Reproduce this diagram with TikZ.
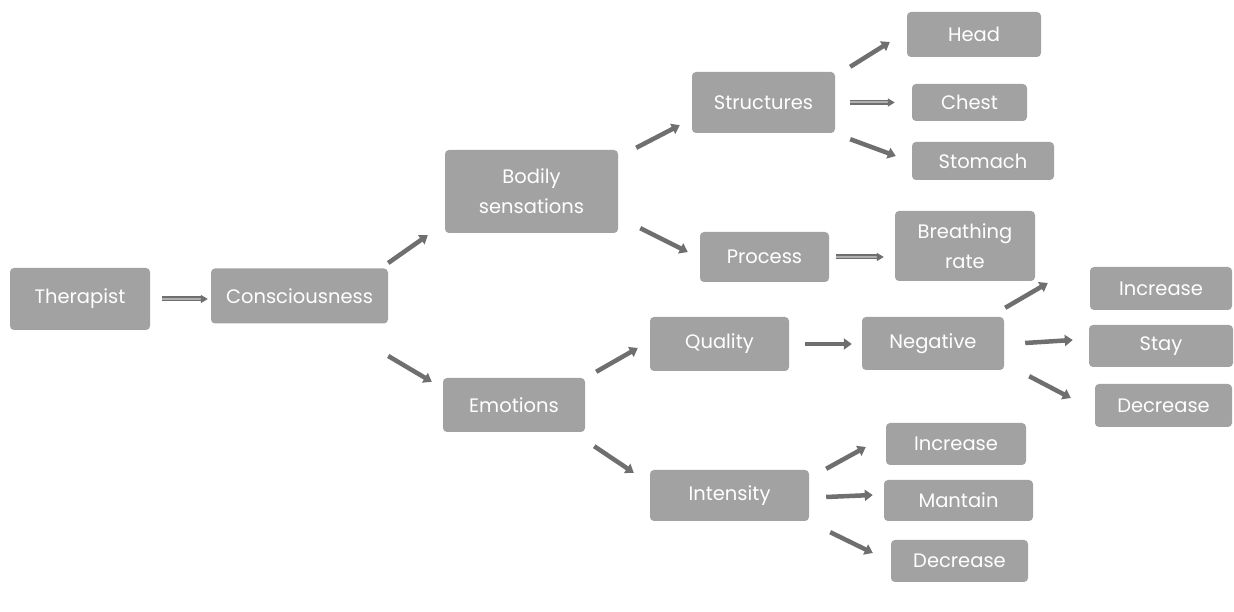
\documentclass[tikz,border=0pt]{standalone}
\usepackage{fontspec}
\setmainfont{Poppins}
\usetikzlibrary{arrows.meta}
\definecolor{boxgray}{HTML}{A2A2A2}
\definecolor{arrowgray}{HTML}{6F6F6F}
\begin{document}
\begin{tikzpicture}[x=1pt,y=1pt,
  box/.style={draw=none, fill=boxgray, rounded corners=4pt, text=white,
    font=\fontsize{19.5}{24}\selectfont, align=center, inner sep=0pt},
  arr/.style={draw=arrowgray, line width=4.5pt,
    -{Triangle[length=8pt,width=11pt]}},
  darr/.style={draw=arrowgray, line width=1.5pt, double=boxgray!85,
    double distance=2pt, -{Triangle[length=7pt,width=8pt]}}]
\fill[white] (0,0) rectangle (1234,612);
\path[use as bounding box] (0,0) rectangle (1234,612);

% boxes
\node[box, minimum width=140, minimum height=62] (ther) at (80,313) {Therapist};
\node[box, minimum width=177, minimum height=55] (cons) at (299.5,316) {Consciousness};
\node[box, minimum width=173, minimum height=83] (bod) at (531.5,420.5) {Bodily\\[6pt]sensations};
\node[box, minimum width=142, minimum height=54] (emo) at (514,207) {Emotions};
\node[box, minimum width=143, minimum height=61] (str) at (763.5,509.5) {Structures};
\node[box, minimum width=129, minimum height=50] (proc) at (764.5,355) {Process};
\node[box, minimum width=134, minimum height=45] (head) at (974,577.5) {Head};
\node[box, minimum width=115, minimum height=37] (chest) at (969.5,509.5) {Chest};
\node[box, minimum width=142, minimum height=38] (stom) at (983,451) {Stomach};
\node[box, minimum width=140, minimum height=70] (breath) at (965,366) {Breathing\\[6pt]rate};
\node[box, minimum width=139, minimum height=54] (qual) at (719.5,268) {Quality};
\node[box, minimum width=142, minimum height=53] (neg) at (933,268.5) {Negative};
\node[box, minimum width=142, minimum height=43] (ninc) at (1161,323.5) {Increase};
\node[box, minimum width=144, minimum height=42] (nstay) at (1161,266) {Stay};
\node[box, minimum width=137, minimum height=43] (ndec) at (1163.5,206.5) {Decrease};
\node[box, minimum width=159, minimum height=51] (inten) at (729.5,116.5) {Intensity};
\node[box, minimum width=140, minimum height=42] (iinc) at (956,168) {Increase};
\node[box, minimum width=149, minimum height=41] (imant) at (958.5,111.5) {Mantain};
\node[box, minimum width=137, minimum height=42] (idec) at (959.5,51) {Decrease};

% connectors
\draw[darr] ([shift={(12,0)}]ther.east) -- ([shift={(-3,-3)}]cons.west);
\draw[arr] ([shift={(0,33)}]cons.east) -- ([shift={(-17,-2)}]bod.south west);
\draw[arr] ([shift={(0,-60)}]cons.east) -- ([shift={(-11,-4)}]emo.north west);
\draw[arr] ([shift={(18,2)}]bod.north east) -- ([shift={(-12,8)}]str.south west);
\draw[arr] ([shift={(22,5)}]bod.south east) -- ([shift={(-12,5)}]proc.west);
\draw[arr] ([shift={(15,5)}]str.north east) -- ([shift={(-17,-7.5)}]head.west);
\draw[darr] ([shift={(15,0)}]str.east) -- ([shift={(-17,0)}]chest.west);
\draw[arr] ([shift={(15,-6)}]str.south east) -- ([shift={(-16,5)}]stom.west);
\draw[darr] ([shift={(7,0)}]proc.east) -- ([shift={(-11,-11)}]breath.west);
\draw[arr] ([shift={(11,6)}]emo.north east) -- ([shift={(-12,-4)}]qual.west);
\draw[arr] ([shift={(9,-14)}]emo.south east) -- ([shift={(-16,-3)}]inten.north west);
\draw[arr] ([shift={(16,0)}]qual.east) -- ([shift={(-10,-0.5)}]neg.west);
\draw[arr] ([shift={(1,9)}]neg.north east) -- ([shift={(-42,5.5)}]ninc.west);
\draw[arr] ([shift={(21,0.5)}]neg.east) -- ([shift={(-16,6)}]nstay.west);
\draw[arr] ([shift={(25,-6)}]neg.south east) -- ([shift={(-24,7.5)}]ndec.west);
\draw[arr] ([shift={(17,1)}]inten.north east) -- ([shift={(-20,-3)}]iinc.west);
\draw[arr] ([shift={(17,-1.5)}]inten.east) -- ([shift={(-11,5.5)}]imant.west);
\draw[arr] ([shift={(21,-11)}]inten.south east) -- ([shift={(-18,8)}]idec.west);
\end{tikzpicture}
\end{document}
